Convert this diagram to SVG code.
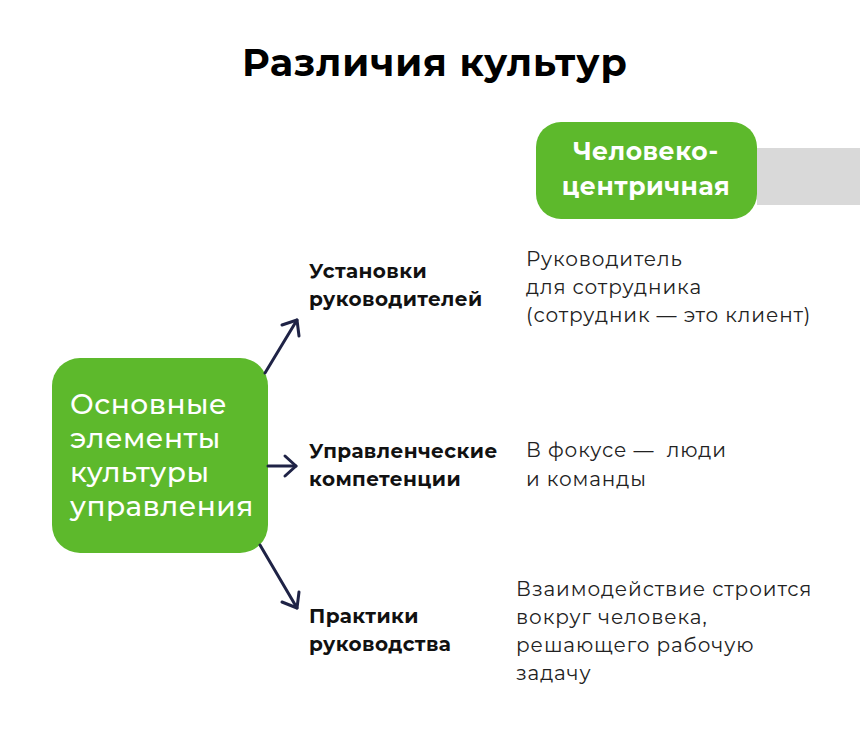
<svg xmlns="http://www.w3.org/2000/svg" width="860" height="738" viewBox="0 0 860 738">
<style>
text{font-family:"Montserrat","Noto Sans","DejaVu Sans",sans-serif}
.lbl{font-size:20px;font-weight:bold;fill:#111;letter-spacing:0.4px}
.txt{font-size:20px;fill:#222;letter-spacing:0.9px}
.conn{stroke:#1f2346;stroke-width:3;fill:none;stroke-linecap:round;stroke-linejoin:round}
</style>
<rect width="860" height="738" fill="#fff"/>
<text x="435" y="76" text-anchor="middle" font-size="38" font-weight="bold" fill="#000" letter-spacing="0.9">Различия культур</text>
<g id="grey"><rect x="757" y="148" width="103" height="57" fill="#d9d9d9"/></g>
<g id="human"><rect x="536" y="122" width="221" height="97" rx="25" fill="#5db92c"/>
<text x="646" y="160" text-anchor="middle" font-size="25" font-weight="bold" fill="#fff" letter-spacing="0.5">Человеко-</text>
<text x="646" y="195" text-anchor="middle" font-size="25" font-weight="bold" fill="#fff" letter-spacing="0.5">центричная</text></g>
<g id="main"><rect x="52" y="358" width="216" height="195" rx="28" fill="#5db92c"/>
<g font-size="28" font-weight="500" fill="#fff" letter-spacing="0.5"><text x="70" y="414">Основные</text><text x="70" y="448">элементы</text><text x="70" y="482">культуры</text><text x="70" y="516">управления</text></g></g>
<g id="connectors" class="conn">
<path d="M265 373 L297 320"/><path d="M282 325 L297 320 L299 336"/>
<path d="M268 466 L296 466"/><path d="M285 456 L296 466 L285 476"/>
<path d="M260 545 L297 608"/><path d="M299 592 L297 608 L282 602"/>
</g>
<g id="n1"><text class="lbl" x="309" y="278">Установки</text><text class="lbl" x="309" y="306">руководителей</text></g>
<g id="n2"><text class="lbl" x="309" y="458">Управленческие</text><text class="lbl" x="309" y="486">компетенции</text></g>
<g id="n3"><text class="lbl" x="309" y="623">Практики</text><text class="lbl" x="309" y="651">руководства</text></g>
<g id="t1"><text class="txt" x="526" y="266">Руководитель</text><text class="txt" x="526" y="294">для сотрудника</text><text class="txt" x="526" y="322">(сотрудник — это клиент)</text></g>
<g id="t2"><text class="txt" x="526" y="457" xml:space="preserve">В фокусе —  люди</text><text class="txt" x="526" y="486">и команды</text></g>
<g id="t3"><text class="txt" x="516" y="596">Взаимодействие строится</text><text class="txt" x="516" y="624">вокруг человека,</text><text class="txt" x="516" y="652">решающего рабочую</text><text class="txt" x="516" y="680">задачу</text></g>
</svg>
